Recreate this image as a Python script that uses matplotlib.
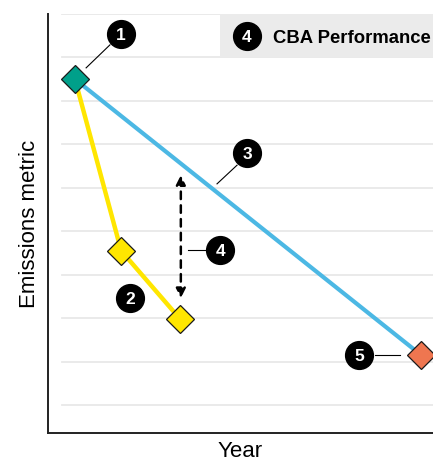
import matplotlib
matplotlib.use("Agg")
import matplotlib.pyplot as plt
from matplotlib.patches import Rectangle

plt.rcParams['font.family'] = ['Liberation Sans', 'DejaVu Sans']

# data (chart units)
start_x, start_y = 0.7, 8.5
actual_x = [0.7, 1.9, 3.43]
actual_y = [8.5, 4.55, 2.98]
target_x = [0.7, 9.69]
target_y = [8.5, 2.15]
gap_x = 3.45
gap_y = [3.46, 6.29]
grid_levels = [1, 2, 3, 4, 5, 6, 7, 8, 9, 10]

# callouts: label, circle position, leader line (or None)
callouts = [
    ("1", (1.9, 9.54), ((0.99, 8.76), (1.61, 9.29))),
    ("2", (2.13, 3.46), None),
    ("3", (5.17, 6.80), ((4.39, 6.09), (4.91, 6.52))),
    ("4", (4.47, 4.57), ((3.64, 4.57), (4.10, 4.57))),
    ("5", (8.08, 2.15), ((8.49, 2.15), (9.14, 2.15))),
]

fig = plt.figure(figsize=(4.33, 4.61), dpi=100)
ax = fig.add_axes([48/433, 28/461, 1 - 48/433, (433 - 14)/461])
ax.set_xlim(0, 10)
ax.set_ylim(0.355, 10)

for g in grid_levels:
    ax.axhline(g, xmin=14/385, xmax=1, color='#e8e8e8', lw=1.3, zorder=0)

# legend box
ax.add_patch(Rectangle((4.47, 9.01), 6, 0.99, facecolor='#ebebeb',
                       edgecolor='none', zorder=0.5, clip_on=False))

ax.plot(target_x, target_y, color='#4cb8e4', lw=3, zorder=2, solid_capstyle='butt')
ax.plot(actual_x, actual_y, color='#ffe600', lw=3.2, zorder=2)

ax.annotate('', xy=(gap_x, gap_y[1]), xytext=(gap_x, gap_y[0]),
            arrowprops=dict(arrowstyle='<|-|>', color='black', lw=1.8,
                            linestyle=(0, (3, 2.5)), mutation_scale=14,
                            shrinkA=0, shrinkB=0), zorder=3)

mk = dict(marker='D', ms=14.5, mec='#1a1a1a', mew=0.9, ls='none', zorder=4)
ax.plot(actual_x[1:], actual_y[1:], mfc='#ffe600', **mk)
ax.plot([start_x], [start_y], mfc='#00a08a', **mk)
ax.plot([target_x[1]], [target_y[1]], mfc='#ef7650', clip_on=False, **mk)

for label, (cx, cy), leader in callouts:
    if leader is not None:
        (x0, y0), (x1, y1) = leader
        ax.plot([x0, x1], [y0, y1], color='black', lw=0.8, zorder=3)
    ax.scatter([cx], [cy], s=400, color='black', zorder=5)
    ax.text(cx, cy, label, color='white', fontsize=12.5, fontweight='bold',
            ha='center', va='center_baseline', zorder=6)

# legend entry
ax.scatter([5.17], [9.49], s=400, color='black', zorder=5, clip_on=False)
ax.text(5.17, 9.49, "4", color='white', fontsize=12.5, fontweight='bold',
        ha='center', va='center_baseline', zorder=6)
ax.text(5.84, 9.49, "CBA Performance", color='black', fontsize=13.3,
        fontweight='bold', ha='left', va='center_baseline', zorder=6,
        clip_on=False)

for s in ['top', 'right']:
    ax.spines[s].set_visible(False)
for s in ['left', 'bottom']:
    ax.spines[s].set_color('#222222')
    ax.spines[s].set_linewidth(1.4)
ax.set_xticks([])
ax.set_yticks([])

ax.set_xlabel("Year", fontsize=16, labelpad=6)
ax.set_ylabel("Emissions metric", fontsize=16, labelpad=6)

fig.savefig("out.png", dpi=100)
